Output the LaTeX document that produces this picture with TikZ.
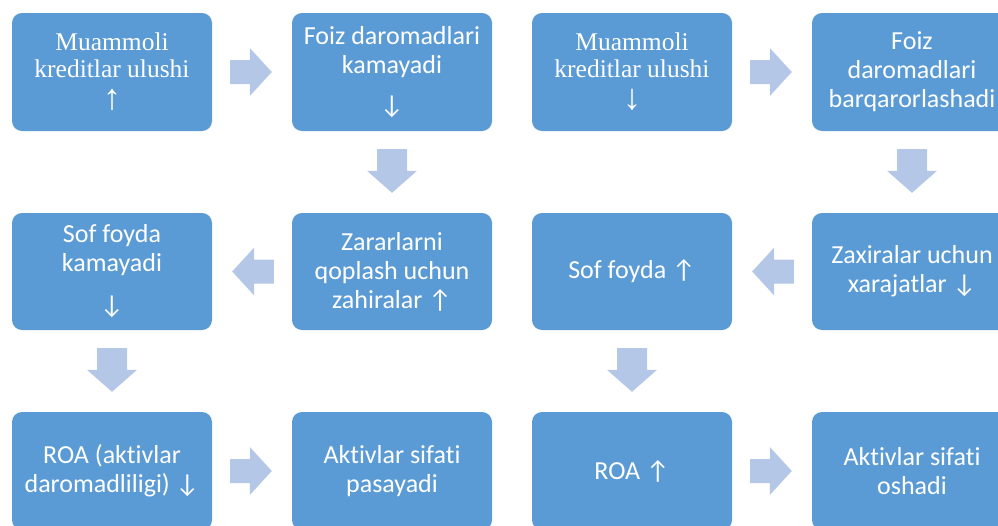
\documentclass[tikz,border=0pt]{standalone}
\usepackage{fontspec}
\setmainfont{Carlito}[Ligatures=NoCommon]
\newfontfamily\serifbox{Liberation Serif}
\usetikzlibrary{calc}
\definecolor{boxblue}{HTML}{5B9BD5}
\definecolor{arrblue}{HTML}{B4C7E7}
\newcommand\bigarr[1]{{\fontsize{36}{28}\selectfont #1}}
\tikzset{
  flowbox/.style={fill=boxblue, rounded corners=10pt, minimum width=200pt,
    minimum height=118pt, inner sep=0pt, align=center, text=white,
    font=\fontsize{26}{29}\selectfont},
  serifflow/.style={flowbox, font=\serifbox\fontsize{25.5}{27}\selectfont},
  flowarrow/.style={fill=arrblue},
}
\newcommand\conn[4]{%
  \coordinate (cS) at ($(#1)!18pt!(#2)$);
  \coordinate (cT) at ($(#2)!20pt!(#1)$);
  \coordinate (cH) at ($(cT)!22pt!(cS)$);
  \fill[flowarrow] ($(cS)!#3!90:(cT)$) -- ($(cH)!#3!90:(cT)$) -- ($(cH)!#4!90:(cT)$)
    -- (cT) -- ($(cH)!#4!-90:(cT)$) -- ($(cH)!#3!-90:(cT)$) -- ($(cS)!#3!-90:(cT)$) -- cycle;
}
\begin{document}
\begin{tikzpicture}[x=1pt,y=-1pt]
\useasboundingbox (0,0) rectangle (998,525);
% left diagram
\node[serifflow] (a1) at (112,72) {Muammoli\\kreditlar ulushi\\[5pt]\bigarr{↑}};
\node[flowbox] (a2) at (392,72) {Foiz daromadlari\\kamayadi\\[11pt]↓};
\node[flowbox, minimum height=117pt] (a3) at (392,271.5) {Zararlarni\\qoplash uchun\\zahiralar ↑};
\node[flowbox, minimum height=117pt] (a4) at (112,271.5) {Sof foyda\\kamayadi\\[13pt]↓};
\node[flowbox] (a5) at (112,471) {ROA (aktivlar\\daromadliligi) ↓};
\node[flowbox] (a6) at (392,471) {Aktivlar sifati\\pasayadi};
% right diagram
\node[serifflow] (b1) at (632,72) {Muammoli\\kreditlar ulushi\\[5pt]\bigarr{↓}};
\node[flowbox] (b2) at (912,72) {Foiz\\daromadlari\\barqarorlashadi};
\node[flowbox, minimum height=117pt] (b3) at (912,271.5) {Zaxiralar uchun\\xarajatlar ↓};
\node[flowbox, minimum height=117pt] (b4) at (632,271.5) {Sof foyda ↑};
\node[flowbox] (b5) at (632,471) {ROA ↑};
\node[flowbox] (b6) at (912,471) {Aktivlar sifati\\oshadi};
% connectors
\conn{a1.east}{a2.west}{12pt}{24pt}
\conn{a2.south}{a3.north}{15pt}{25pt}
\conn{a3.west}{a4.east}{12pt}{24pt}
\conn{a4.south}{a5.north}{15pt}{25pt}
\conn{a5.east}{a6.west}{12pt}{24pt}
\conn{b1.east}{b2.west}{12pt}{24pt}
\conn{b2.south}{b3.north}{15pt}{25pt}
\conn{b3.west}{b4.east}{12pt}{24pt}
\conn{b4.south}{b5.north}{15pt}{25pt}
\conn{b5.east}{b6.west}{12pt}{24pt}
\end{tikzpicture}
\end{document}
